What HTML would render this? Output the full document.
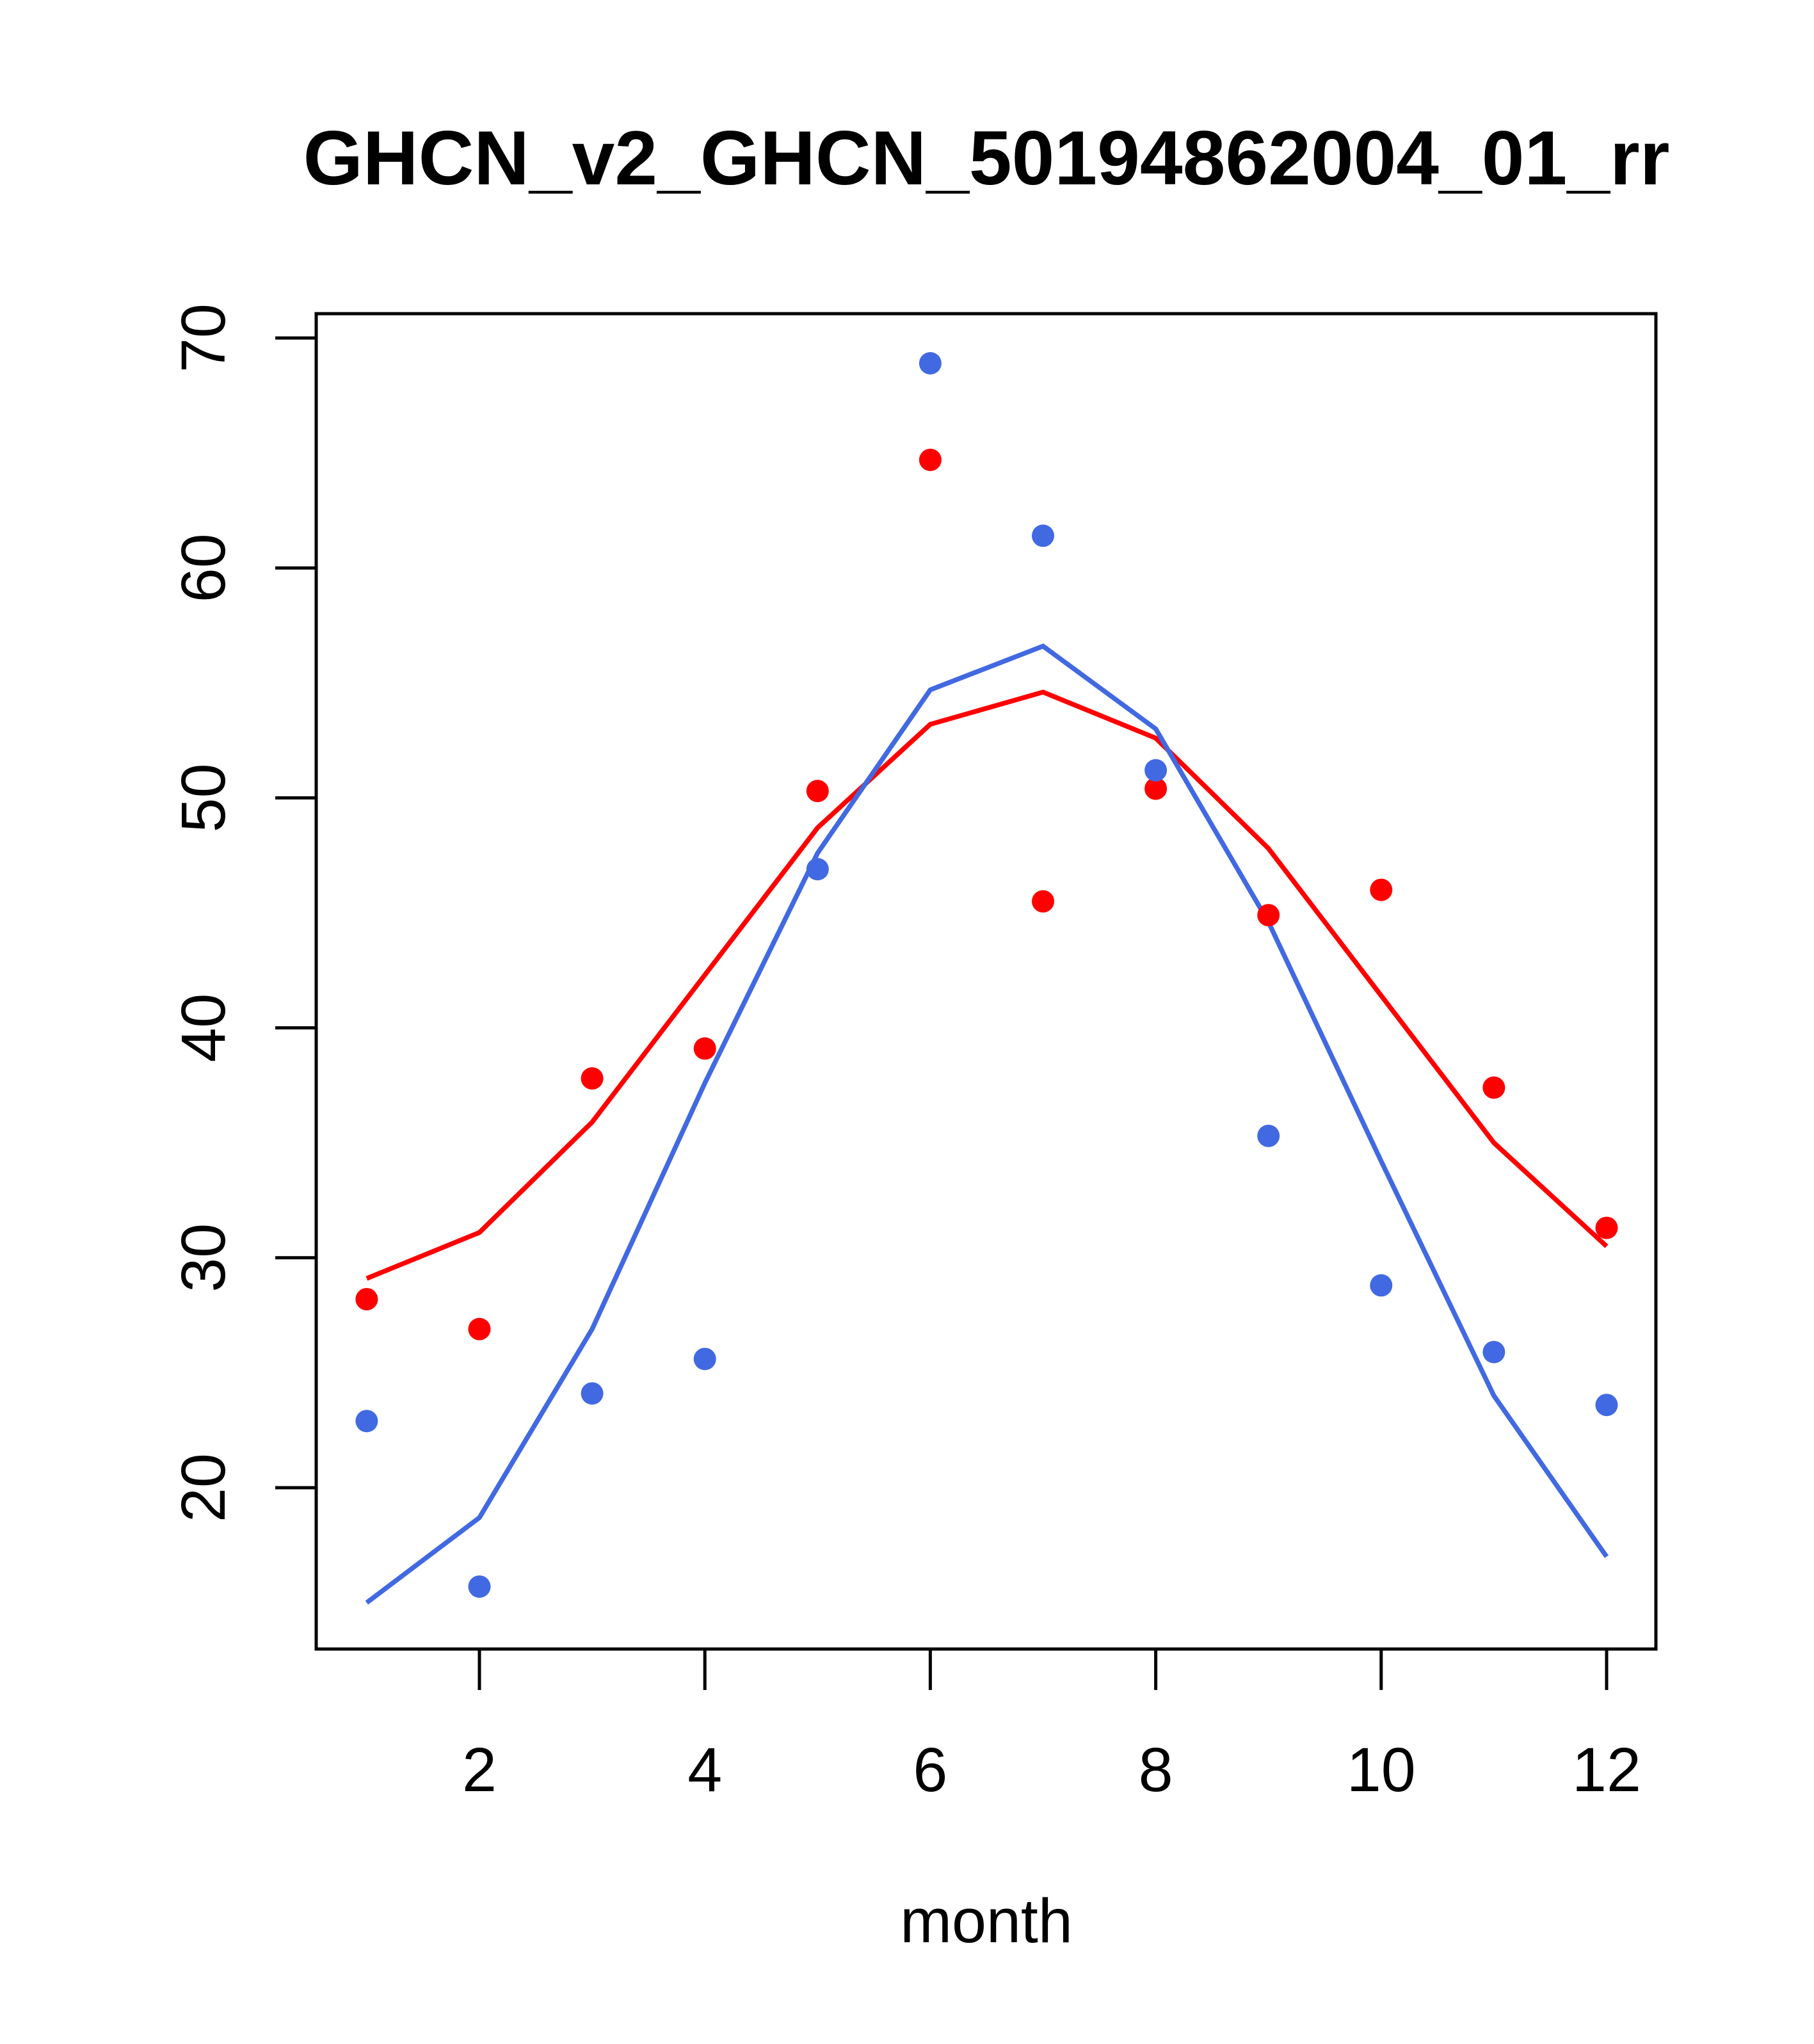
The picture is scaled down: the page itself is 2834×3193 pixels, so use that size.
<!DOCTYPE html>
<html><head><meta charset="utf-8"><style>html,body{margin:0;padding:0;background:#fff}</style></head>
<body>
<svg id="chart" width="2834" height="3188" viewBox="0 0 2834 3188" xmlns="http://www.w3.org/2000/svg" font-family="Liberation Sans, sans-serif">
<rect width="2834" height="3188" fill="#fff"/>
<text x="1541" y="288" text-anchor="middle" font-size="120" font-weight="bold">GHCN_v2_GHCN_50194862004_01_rr</text>
<text x="1541" y="3034" text-anchor="middle" font-size="97">month</text>
<rect x="494" y="490" width="2093" height="2086" fill="none" stroke="#000" stroke-width="5"/>
<g id="axes"></g>
<g id="marks"></g>
</svg>
<script>
const months = [1,2,3,4,5,6,7,8,9,10,11,12];
const redPoints = [28.2,26.9,37.8,39.1,50.3,64.7,45.5,50.4,44.9,46.0,37.4,31.3];
const redLine = [29.1,31.1,35.9,42.3,48.7,53.2,54.6,52.6,47.8,41.4,35.0,30.5];
const bluePoints = [22.9,15.7,24.1,25.6,46.9,68.9,61.4,51.2,35.3,28.8,25.9,23.6];
const blueLine = [15.0,18.7,26.9,37.6,47.6,54.7,56.6,53.0,44.6,34.2,24.0,17.0];
const xTicks = [2,4,6,8,10,12];
const yTicks = [20,30,40,50,60,70];

const NS = "http://www.w3.org/2000/svg";
function xs(m){ return 749 + (m-2)*176.1; }
function ys(v){ return 2324 - (v-20)*35.92; }
function mk(tag, attrs, parent){
  const e = document.createElementNS(NS, tag);
  for (const k in attrs) e.setAttribute(k, attrs[k]);
  parent.appendChild(e); return e;
}
const axes = document.getElementById('axes');
const marks = document.getElementById('marks');

mk('line',{x1:xs(2),x2:xs(12),y1:2576,y2:2576,stroke:'#000','stroke-width':5},axes);
xTicks.forEach(t=>{
  const l = mk('line',{x1:xs(t),x2:xs(t),y1:2576,y2:2640,stroke:'#000','stroke-width':5},axes);
  
  
  const tx = mk('text',{x:xs(t),y:2798,'text-anchor':'middle','font-size':97},axes);
  tx.textContent = t;
  
  
});
mk('line',{x1:494,x2:494,y1:ys(20),y2:ys(70),stroke:'#000','stroke-width':5},axes);
yTicks.forEach(t=>{
  const l = mk('line',{x1:430,x2:494,y1:ys(t),y2:ys(t),stroke:'#000','stroke-width':5},axes);
  
  
  const tx = mk('text',{x:0,y:0,'text-anchor':'middle','font-size':97,transform:`translate(351,${ys(t)}) rotate(-90)`},axes);
  tx.textContent = t;
  
  
});

function line(vals,color,name){
  const p = mk('polyline',{points:vals.map((v,i)=>xs(months[i])+','+ys(v)).join(' '),fill:'none',stroke:color,'stroke-width':7.5},marks);
  
  
}
function pts(vals,color,name){
  vals.forEach((v,i)=>{
    const c = mk('circle',{cx:xs(months[i]),cy:ys(v),r:17.5,fill:color},marks);
    
    
  });
}
line(redLine,'#FF0000','red-fit-line');
line(blueLine,'#4169E1','blue-fit-line');
pts(redPoints,'#FF0000','red-point');
pts(bluePoints,'#4169E1','blue-point');
</script>
</body></html>
